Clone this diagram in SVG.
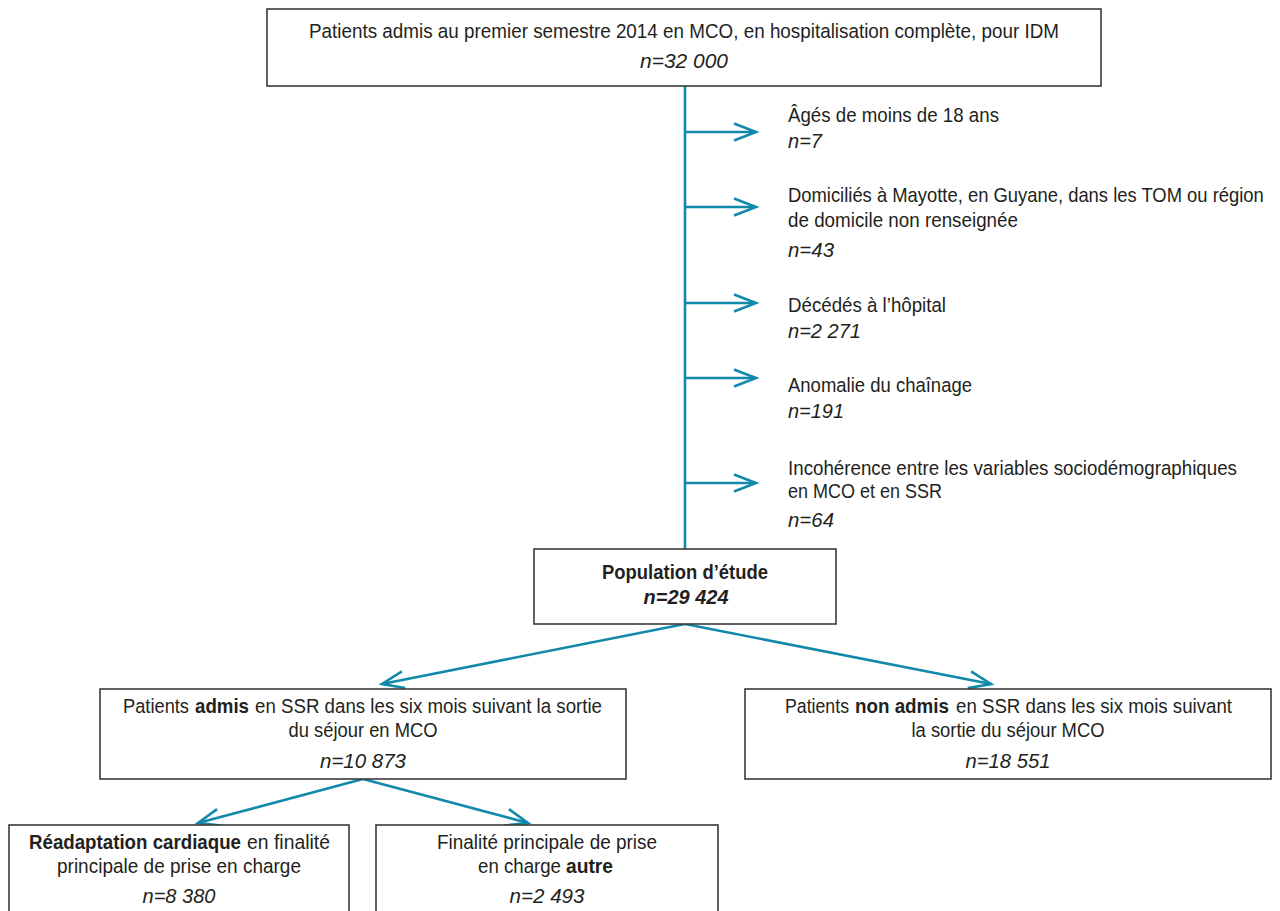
<svg xmlns="http://www.w3.org/2000/svg" width="1280" height="911" viewBox="0 0 1280 911">
<defs>
<style>
.box{fill:#fff;stroke:#3a3a3a;stroke-width:1.6}
.t{font-family:"Liberation Sans",Arial,sans-serif;font-size:20.5px;fill:#231f20}
.c{text-anchor:middle}
.i{font-style:italic}
.b{font-weight:bold}
.con{stroke:#1289ab;stroke-width:2.6;fill:none}
</style>
<marker id="ah" markerUnits="userSpaceOnUse" viewBox="-25 -10 28 20" refX="0" refY="0" markerWidth="28" markerHeight="20" orient="auto" overflow="visible">
<path d="M-22,-8.5 L0,0 L-22,8.5" fill="none" stroke="#1289ab" stroke-width="2.6"/>
</marker>
</defs>
<rect width="1280" height="911" fill="#fff"/>

<g id="connectors">
<line class="con" x1="685" y1="86" x2="685" y2="549"/>
<line class="con" x1="685" y1="132" x2="756" y2="132" marker-end="url(#ah)"/>
<line class="con" x1="685" y1="207" x2="756" y2="207" marker-end="url(#ah)"/>
<line class="con" x1="685" y1="303" x2="756" y2="303" marker-end="url(#ah)"/>
<line class="con" x1="685" y1="378" x2="756" y2="378" marker-end="url(#ah)"/>
<line class="con" x1="685" y1="483" x2="756" y2="483" marker-end="url(#ah)"/>
<line class="con" x1="685" y1="624" x2="382" y2="684" marker-end="url(#ah)"/>
<line class="con" x1="685" y1="624" x2="991" y2="684" marker-end="url(#ah)"/>
<line class="con" x1="363" y1="779" x2="198" y2="823" marker-end="url(#ah)"/>
<line class="con" x1="363" y1="779" x2="528" y2="823" marker-end="url(#ah)"/>
</g>

<g id="n-top">
<rect class="box" x="267" y="9" width="834" height="77"/>
<text class="t c" x="684" y="38" textLength="750" lengthAdjust="spacingAndGlyphs">Patients admis au premier semestre 2014 en MCO, en hospitalisation complète, pour IDM</text>
<text class="t c i" x="684" y="68" textLength="88" lengthAdjust="spacingAndGlyphs">n=32 000</text>
</g>

<g id="n-ex1">
<text class="t" x="788" y="122" textLength="211" lengthAdjust="spacingAndGlyphs">Âgés de moins de 18 ans</text>
<text class="t i" x="788" y="148" textLength="34" lengthAdjust="spacingAndGlyphs">n=7</text>
</g>
<g id="n-ex2">
<text class="t" transform="translate(788,202) scale(0.898,1)">Domiciliés à Mayotte, en Guyane, dans les TOM ou région</text>
<text class="t" x="788" y="227" textLength="230" lengthAdjust="spacingAndGlyphs">de domicile non renseignée</text>
<text class="t i" x="788" y="257" textLength="46" lengthAdjust="spacingAndGlyphs">n=43</text>
</g>
<g id="n-ex3">
<text class="t" x="788" y="312" textLength="158" lengthAdjust="spacingAndGlyphs">Décédés à l’hôpital</text>
<text class="t i" x="788" y="338" textLength="73" lengthAdjust="spacingAndGlyphs">n=2 271</text>
</g>
<g id="n-ex4">
<text class="t" x="788" y="392" textLength="184" lengthAdjust="spacingAndGlyphs">Anomalie du chaînage</text>
<text class="t i" x="788" y="418" textLength="56" lengthAdjust="spacingAndGlyphs">n=191</text>
</g>
<g id="n-ex5">
<text class="t" x="788" y="475" textLength="449" lengthAdjust="spacingAndGlyphs">Incohérence entre les variables sociodémographiques</text>
<text class="t" x="788" y="498" textLength="154" lengthAdjust="spacingAndGlyphs">en MCO et en SSR</text>
<text class="t i" x="788" y="527" textLength="46" lengthAdjust="spacingAndGlyphs">n=64</text>
</g>

<g id="n-pop">
<rect class="box" x="534" y="549" width="302" height="75"/>
<text class="t c b" x="685" y="579" textLength="166" lengthAdjust="spacingAndGlyphs">Population d’étude</text>
<text class="t c b i" x="686" y="604" textLength="85" lengthAdjust="spacingAndGlyphs">n=29 424</text>
</g>

<g id="n-admis">
<rect class="box" x="100" y="689" width="526" height="90"/>
<text class="t" x="123" y="713" textLength="66" lengthAdjust="spacingAndGlyphs">Patients</text>
<text class="t b" x="195" y="713" textLength="54" lengthAdjust="spacingAndGlyphs">admis</text>
<text class="t" x="255" y="713" textLength="347" lengthAdjust="spacingAndGlyphs">en SSR dans les six mois suivant la sortie</text>
<text class="t c" x="363" y="737" textLength="149" lengthAdjust="spacingAndGlyphs">du séjour en MCO</text>
<text class="t c i" x="363" y="768" textLength="86" lengthAdjust="spacingAndGlyphs">n=10 873</text>
</g>

<g id="n-nonadmis">
<rect class="box" x="745" y="689" width="526" height="90"/>
<text class="t" x="785" y="713" textLength="64" lengthAdjust="spacingAndGlyphs">Patients</text>
<text class="t b" x="855" y="713" textLength="94" lengthAdjust="spacingAndGlyphs">non admis</text>
<text class="t" x="956" y="713" textLength="276" lengthAdjust="spacingAndGlyphs">en SSR dans les six mois suivant</text>
<text class="t c" x="1008" y="737" textLength="193" lengthAdjust="spacingAndGlyphs">la sortie du séjour MCO</text>
<text class="t c i" x="1008" y="768" textLength="85" lengthAdjust="spacingAndGlyphs">n=18 551</text>
</g>

<g id="n-cardio">
<rect class="box" x="9" y="825" width="340" height="100"/>
<text class="t b" transform="translate(29,849) scale(0.913,1)">Réadaptation cardiaque</text>
<text class="t" x="247" y="849" textLength="83" lengthAdjust="spacingAndGlyphs">en finalité</text>
<text class="t c" x="179" y="873" textLength="244" lengthAdjust="spacingAndGlyphs">principale de prise en charge</text>
<text class="t c i" x="179" y="903" textLength="73" lengthAdjust="spacingAndGlyphs">n=8 380</text>
</g>

<g id="n-autre">
<rect class="box" x="376" y="825" width="342" height="100"/>
<text class="t c" x="547" y="849" textLength="220" lengthAdjust="spacingAndGlyphs">Finalité principale de prise</text>
<text class="t" x="478" y="873" textLength="83" lengthAdjust="spacingAndGlyphs">en charge</text>
<text class="t b" x="566" y="873" textLength="47" lengthAdjust="spacingAndGlyphs">autre</text>
<text class="t c i" x="547" y="903" textLength="75" lengthAdjust="spacingAndGlyphs">n=2 493</text>
</g>
</svg>
